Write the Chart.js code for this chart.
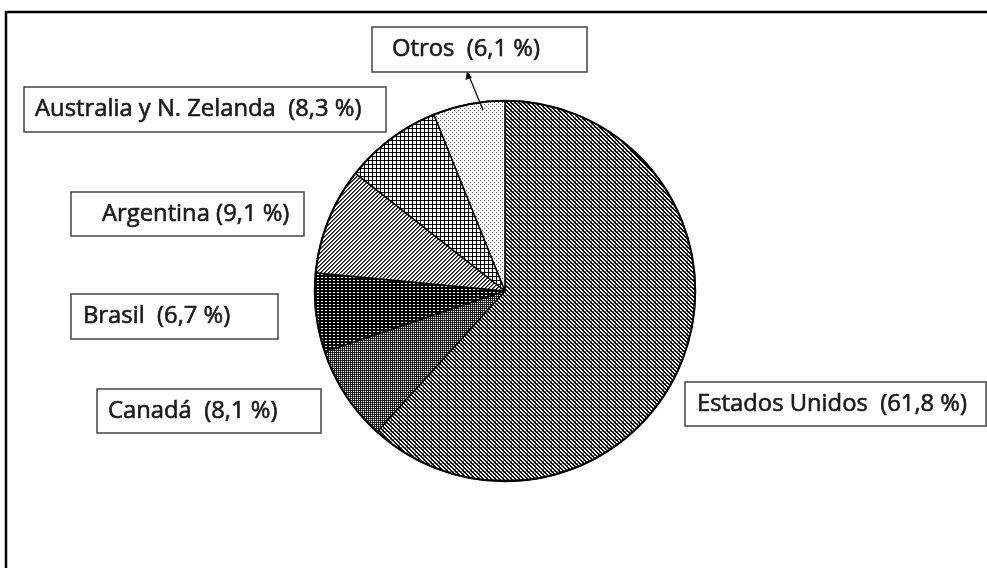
<!DOCTYPE html>
<html>
<head>
<meta charset="utf-8">
<script src="https://cdn.jsdelivr.net/npm/chart.js@4"></script>
<style>
  body { margin: 0; background: #fff; }
  #wrap { width: 987px; height: 568px; }
</style>
</head>
<body>
<div id="wrap"><canvas id="mychart" width="987" height="568"></canvas></div>
<script>
// data
var countries = ["Estados Unidos", "Canadá", "Brasil", "Argentina", "Australia y N. Zelanda", "Otros"];
var shares = [61.8, 8.1, 6.7, 9.1, 8.3, 6.1];

// label box layout (x, y, w, h) and text start
var boxes = [
   { x: 685, y: 382, w: 301, h: 44, tx: 697, sep: "  " },
   { x: 97, y: 389, w: 224, h: 44, tx: 108, sep: "  " },
   { x: 71, y: 294, w: 207, h: 45, tx: 83, sep: "  " },
   { x: 71, y: 192, w: 233, h: 44, tx: 102, sep: " " },
   { x: 24, y: 87, w: 362, h: 45, tx: 35, sep: "  " },
   { x: 372, y: 27, w: 215, h: 45, tx: 392, sep: "  " },
];

function makePattern(w, h, bg, fg, test) {
   var c = document.createElement("canvas");
   c.width = w; c.height = h;
   var g = c.getContext("2d");
   g.fillStyle = bg;
   g.fillRect(0, 0, w, h);
   for (var y = 0; y < h; y++) {
      for (var x = 0; x < w; x++) {
         var col = test(x, y);
         if (col) { g.fillStyle = col === true ? fg : col; g.fillRect(x, y, 1, 1); }
      }
   }
   return g.createPattern(c, "repeat");
}

var ctx0 = document.getElementById("mychart").getContext("2d");
var patterns = [
   // dense "\" diagonals with a faint grid
   makePattern(8, 8, "#fff", "#000", function (x, y) {
      var d = ((x - y) % 4 + 4) % 4;
      if (d === 0 || d === 1) return true;
      if (x === 7 || y === 7) return "#999";
      return false;
   }),
   // dotted grid, mid grey
   makePattern(4, 4, "#fff", "#000", function (x, y) {
      if (x % 2 === 0 && y % 2 === 0) return true;
      if (x % 2 === 0 || y % 2 === 0) return "#333";
      return false;
   }),
   // dark, small white dashes
   makePattern(4, 3, "#000", "#fff", function (x, y) {
      return y === 1 && (x === 1 || x === 2);
   }),
   // "/" diagonals, fine
   makePattern(4, 4, "#fff", "#000", function (x, y) {
      var d = (x + y) % 4;
      if (d === 0) return true;
      if (d === 1) return "#666";
      return false;
   }),
   // crosshatch
   makePattern(4, 4, "#fff", "#000", function (x, y) {
      return x % 4 === 0 || y % 4 === 0;
   }),
   // sparse dots
   makePattern(4, 4, "#fff", "#000", function (x, y) {
      return (x === 0 && y === 0) || (x === 2 && y === 2) ? "#555" : false;
   }),
];

var decor = {
   id: "decor",
   afterDraw: function (chart) {
      var ctx = chart.ctx;
      ctx.save();
      // outer frame (left and top only are visible)
      ctx.strokeStyle = "#000";
      ctx.lineWidth = 2.5;
      ctx.beginPath();
      ctx.moveTo(6, 568);
      ctx.lineTo(6, 12);
      ctx.lineTo(987, 12);
      ctx.stroke();

      // outer ring of the pie
      var arc = chart.getDatasetMeta(0).data[0];
      ctx.lineWidth = 2;
      ctx.beginPath();
      ctx.arc(arc.x, arc.y, arc.outerRadius, 0, Math.PI * 2);
      ctx.stroke();

      // arrow for "Otros"
      ctx.lineWidth = 1.2;
      ctx.beginPath();
      ctx.moveTo(483, 110);
      ctx.lineTo(469, 76);
      ctx.stroke();
      ctx.beginPath();
      ctx.moveTo(467, 71);
      ctx.lineTo(465.5, 80);
      ctx.lineTo(472, 77.5);
      ctx.closePath();
      ctx.fillStyle = "#000";
      ctx.fill();

      // label boxes
      ctx.font = "24px 'Open Sans'";
      var ref = ctx.measureText("Estados Unidos  (61,8 %)").width;
      var sx = 270 / ref;
      for (var i = 0; i < countries.length; i++) {
         var b = boxes[i];
         ctx.fillStyle = "#fff";
         ctx.fillRect(b.x, b.y, b.w, b.h);
         ctx.strokeStyle = "#444";
         ctx.lineWidth = 1.5;
         ctx.strokeRect(b.x, b.y, b.w, b.h);
         var txt = countries[i] + b.sep + "(" + shares[i].toFixed(1).replace(".", ",") + " %)";
         ctx.save();
         ctx.translate(b.tx, b.y + 29);
         ctx.scale(sx, 1);
         ctx.fillStyle = "#1a1a1a";
         ctx.strokeStyle = "#1a1a1a";
         ctx.lineWidth = 0.6;
         ctx.textBaseline = "alphabetic";
         ctx.fillText(txt, 0, 0);
         ctx.strokeText(txt, 0, 0);
         ctx.restore();
      }
      ctx.restore();
   },
};

var pieChart = new Chart(ctx0, {
   type: "pie",
   data: {
      labels: countries,
      datasets: [
         {
            data: shares,
            backgroundColor: patterns,
            borderColor: "#000",
            borderWidth: 1.5,
         },
      ],
   },
   options: {
      responsive: false,
      animation: false,
      layout: { padding: { left: 314, right: 291, top: 100, bottom: 86 } },
      plugins: {
         legend: { display: false },
         tooltip: { enabled: false },
      },
   },
   plugins: [decor],
});
</script>
</body>
</html>
